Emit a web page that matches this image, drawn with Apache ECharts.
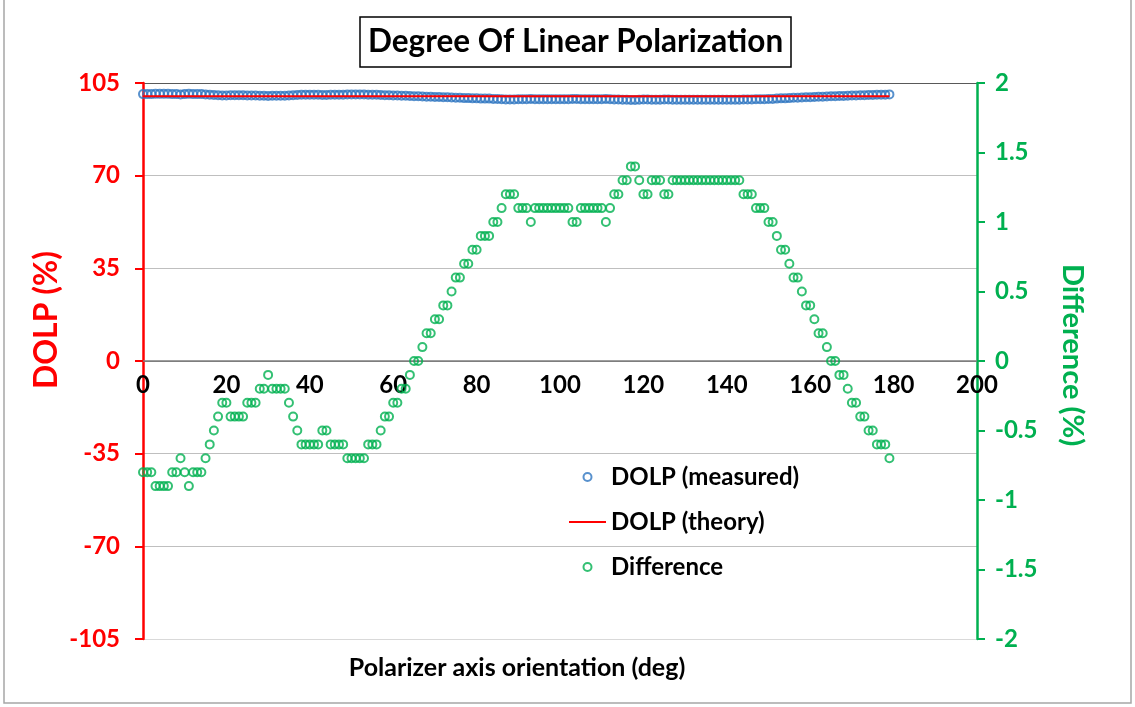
<!DOCTYPE html>
<html>
<head>
<meta charset="utf-8">
<title>Degree Of Linear Polarization</title>
<script src="https://cdn.jsdelivr.net/npm/echarts/dist/echarts.min.js"></script>
<style>
  html, body { margin: 0; padding: 0; background: #fff; }
  #main { width: 1135px; height: 707px; }
</style>
</head>
<body>
<div id="main"></div>
<script>
// polarizer angle, one reading per degree 0..179
var angles = Array.from({ length: 180 }, function (v, i) { return i; });

// DOLP measured (%)
var dolpMeasured = [
  100.8, 100.8, 100.8, 100.9, 100.9, 100.9, 100.9, 100.8, 100.8, 100.7,
  100.8, 100.9, 100.8, 100.8, 100.8, 100.7, 100.6, 100.5, 100.4, 100.3,
  100.3, 100.4, 100.4, 100.4, 100.4, 100.3, 100.3, 100.3, 100.2, 100.2,
  100.1, 100.2, 100.2, 100.2, 100.2, 100.3, 100.4, 100.5, 100.6, 100.6,
  100.6, 100.6, 100.6, 100.5, 100.5, 100.6, 100.6, 100.6, 100.6, 100.7,
  100.7, 100.7, 100.7, 100.7, 100.6, 100.6, 100.6, 100.5, 100.4, 100.4,
  100.3, 100.3, 100.2, 100.2, 100.1, 100.0, 100.0, 99.9, 99.8, 99.8,
  99.7, 99.7, 99.6, 99.6, 99.5, 99.4, 99.4, 99.3, 99.3, 99.2,
  99.2, 99.1, 99.1, 99.1, 99.0, 99.0, 98.9, 98.8, 98.8, 98.8,
  98.9, 98.9, 98.9, 99.0, 98.9, 98.9, 98.9, 98.9, 98.9, 98.9,
  98.9, 98.9, 98.9, 99.0, 99.0, 98.9, 98.9, 98.9, 98.9, 98.9,
  98.9, 99.0, 98.9, 98.8, 98.8, 98.7, 98.7, 98.6, 98.6, 98.7,
  98.8, 98.8, 98.7, 98.7, 98.7, 98.8, 98.8, 98.7, 98.7, 98.7,
  98.7, 98.7, 98.7, 98.7, 98.7, 98.7, 98.7, 98.7, 98.7, 98.7,
  98.7, 98.7, 98.7, 98.7, 98.8, 98.8, 98.8, 98.9, 98.9, 98.9,
  99.0, 99.0, 99.1, 99.2, 99.2, 99.3, 99.4, 99.4, 99.5, 99.6,
  99.6, 99.7, 99.8, 99.8, 99.9, 100.0, 100.0, 100.1, 100.1, 100.2,
  100.3, 100.3, 100.4, 100.4, 100.5, 100.5, 100.6, 100.6, 100.6, 100.7
];

// theory line, flat at 100 % across the measured range
var theoryAngles = [0, 179];
var theoryValues = [100, 100];

// difference (%), green circles on the right axis
var difference = [
  -0.8, -0.8, -0.8, -0.9, -0.9, -0.9, -0.9, -0.8, -0.8, -0.7,
  -0.8, -0.9, -0.8, -0.8, -0.8, -0.7, -0.6, -0.5, -0.4, -0.3,
  -0.3, -0.4, -0.4, -0.4, -0.4, -0.3, -0.3, -0.3, -0.2, -0.2,
  -0.1, -0.2, -0.2, -0.2, -0.2, -0.3, -0.4, -0.5, -0.6, -0.6,
  -0.6, -0.6, -0.6, -0.5, -0.5, -0.6, -0.6, -0.6, -0.6, -0.7,
  -0.7, -0.7, -0.7, -0.7, -0.6, -0.6, -0.6, -0.5, -0.4, -0.4,
  -0.3, -0.3, -0.2, -0.2, -0.1, 0.0, 0.0, 0.1, 0.2, 0.2,
  0.3, 0.3, 0.4, 0.4, 0.5, 0.6, 0.6, 0.7, 0.7, 0.8,
  0.8, 0.9, 0.9, 0.9, 1.0, 1.0, 1.1, 1.2, 1.2, 1.2,
  1.1, 1.1, 1.1, 1.0, 1.1, 1.1, 1.1, 1.1, 1.1, 1.1,
  1.1, 1.1, 1.1, 1.0, 1.0, 1.1, 1.1, 1.1, 1.1, 1.1,
  1.1, 1.0, 1.1, 1.2, 1.2, 1.3, 1.3, 1.4, 1.4, 1.3,
  1.2, 1.2, 1.3, 1.3, 1.3, 1.2, 1.2, 1.3, 1.3, 1.3,
  1.3, 1.3, 1.3, 1.3, 1.3, 1.3, 1.3, 1.3, 1.3, 1.3,
  1.3, 1.3, 1.3, 1.3, 1.2, 1.2, 1.2, 1.1, 1.1, 1.1,
  1.0, 1.0, 0.9, 0.8, 0.8, 0.7, 0.6, 0.6, 0.5, 0.4,
  0.4, 0.3, 0.2, 0.2, 0.1, 0.0, 0.0, -0.1, -0.1, -0.2,
  -0.3, -0.3, -0.4, -0.4, -0.5, -0.5, -0.6, -0.6, -0.6, -0.7
];

var FONT = 'Lato';
var RED = '#FF0000';
var GREEN = '#00B050';
var BLUE = '#2E75C0';

function pairs(xs, ys) {
  return xs.map(function (x, i) { return [x, ys[i]]; });
}

var myChart = echarts.init(document.getElementById('main'));

var option = {
  backgroundColor: '#fff',
  animation: false,
  textStyle: { fontFamily: FONT },
  title: {
    text: 'Degree Of Linear Polarization',
    left: 360,
    top: 17,
    padding: [9, 8],
    borderColor: '#000',
    borderWidth: 1.5,
    textStyle: { fontFamily: FONT, fontSize: 31.5, fontWeight: 'bold', color: '#000' }
  },
  legend: {
    orient: 'vertical',
    left: 563,
    top: 460,
    itemWidth: 37,
    itemHeight: 8,
    itemGap: 21,
    textStyle: { fontFamily: FONT, fontSize: 24, fontWeight: 'bold', color: '#000' },
    data: [
      'DOLP (measured)',
      // line only in the key, no dot on it
      { name: 'DOLP (theory)', itemStyle: { color: 'rgba(0,0,0,0)', borderWidth: 0 } },
      'Difference'
    ]
  },
  grid: { left: 143, right: 158, top: 83, bottom: 68, containLabel: false },
  xAxis: {
    type: 'value',
    min: 0,
    max: 200,
    interval: 20,
    position: 'bottom',
    offset: -278, // sits on the DOLP = 0 line
    axisLine: { onZero: false, lineStyle: { color: '#7F7F7F', width: 1.5 } },
    axisTick: { show: false },
    splitLine: { show: false },
    axisLabel: { margin: 12, fontFamily: FONT, fontSize: 24, fontWeight: 'bold', color: '#000' }
  },
  yAxis: [
    {
      type: 'value',
      min: -105,
      max: 105,
      interval: 35,
      position: 'left',
      axisLine: { show: true, onZero: false, lineStyle: { color: RED, width: 2.5 } },
      axisTick: { show: true, inside: false, length: 8, lineStyle: { color: RED, width: 2 } },
      axisLabel: { margin: 23, fontFamily: FONT, fontSize: 24, fontWeight: 'bold', color: RED },
      splitLine: {
        show: true,
        lineStyle: {
          color: ['#D9D9D9', '#BFBFBF', '#BFBFBF', '#7F7F7F', '#BFBFBF', '#BFBFBF', '#595959'],
          width: 1.2
        }
      }
    },
    {
      type: 'value',
      min: -2,
      max: 2,
      interval: 0.5,
      position: 'right',
      axisLine: { show: true, onZero: false, lineStyle: { color: GREEN, width: 2.5 } },
      axisTick: { show: true, inside: false, length: 8, lineStyle: { color: GREEN, width: 2 } },
      axisLabel: { margin: 18, fontFamily: FONT, fontSize: 24, fontWeight: 'bold', color: GREEN },
      splitLine: { show: false }
    }
  ],
  graphic: [
    {
      type: 'rect',
      shape: { x: 4, y: -4, width: 1127, height: 707 },
      style: { fill: 'none', stroke: '#A6A6A6', lineWidth: 1.5 },
      silent: true,
      z: -1
    },
    {
      type: 'text',
      x: 47,
      y: 320,
      rotation: Math.PI / 2,
      style: {
        text: 'DOLP (%)',
        fill: RED,
        font: 'bold 32px ' + FONT,
        textAlign: 'center',
        textVerticalAlign: 'middle'
      }
    },
    {
      type: 'text',
      x: 1072,
      y: 355,
      rotation: -Math.PI / 2,
      style: {
        text: 'Difference (%)',
        fill: GREEN,
        font: 'bold 29px ' + FONT,
        textAlign: 'center',
        textVerticalAlign: 'middle'
      }
    },
    {
      type: 'text',
      x: 517,
      y: 668,
      style: {
        text: 'Polarizer axis orientation (deg)',
        fill: '#000',
        font: 'bold 25px ' + FONT,
        textAlign: 'center',
        textVerticalAlign: 'middle'
      }
    }
  ],
  series: [
    {
      name: 'DOLP (measured)',
      type: 'scatter',
      yAxisIndex: 0,
      symbol: 'circle',
      symbolSize: 8,
      itemStyle: { color: 'rgba(255,255,255,0)', borderColor: BLUE, borderWidth: 2 },
      data: pairs(angles, dolpMeasured)
    },
    {
      name: 'DOLP (theory)',
      type: 'line',
      yAxisIndex: 0,
      symbol: 'none',
      lineStyle: { color: RED, width: 2 },
      itemStyle: { color: RED },
      data: pairs(theoryAngles, theoryValues)
    },
    {
      name: 'Difference',
      type: 'scatter',
      yAxisIndex: 1,
      symbol: 'circle',
      symbolSize: 8,
      itemStyle: { color: 'rgba(255,255,255,0)', borderColor: GREEN, borderWidth: 2 },
      data: pairs(angles, difference)
    }
  ]
};

myChart.setOption(option);
window.addEventListener('resize', function () {
  myChart.resize();
});
</script>
</body>
</html>
